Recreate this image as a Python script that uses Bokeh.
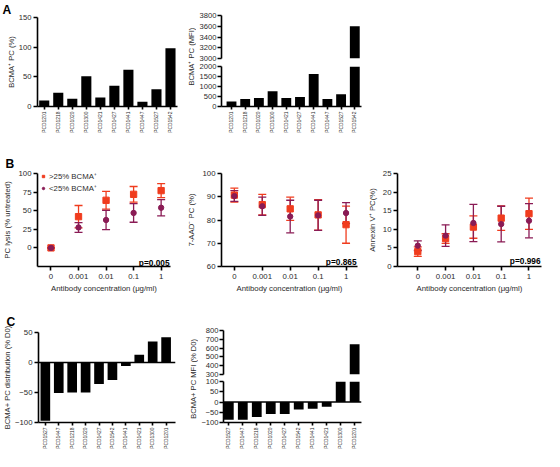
import math
from bokeh.plotting import figure
from bokeh.models import (Range1d, FixedTicker, Label, Span, Whisker, TeeHead,
                          Legend, LegendItem, ColumnDataSource, Title)
from bokeh.layouts import row, column
from bokeh.embed import file_html
from bokeh.resources import INLINE

# ---------------- data ----------------
patients_a = ["PCD1201", "PCD1218", "PCD1020", "PCD1300", "PCD1421",
              "PCD1427", "PCD1441", "PCD1447", "PCD1527", "PCD1542"]
bcma_pct = [10, 23, 13, 51, 15, 35, 62, 8, 29, 98]
bcma_mfi = [250, 370, 420, 760, 430, 480, 1620, 370, 610, 3600]

conc_labels = ["0", "0.001", "0.01", "0.1", "1"]
lysis_hi = [0, 42, 64, 72, 77]
lysis_hi_err = [0, 15, 12, 10.5, 9.5]
lysis_lo = [0, 27.5, 37.5, 47, 54]
lysis_lo_err = [0, 6.5, 13, 12.5, 11]
aad_hi = [90.7, 86.6, 84.8, 82.2, 78]
aad_hi_err = [3, 4.4, 5, 6.6, 8]
aad_lo = [90.3, 85.9, 81.5, 82, 83]
aad_lo_err = [2.3, 3.9, 7, 6.5, 4.5]
annex_hi = [4.0, 7.5, 10.6, 13.0, 14.2]
annex_hi_err = [1.3, 1.3, 3.0, 3.3, 4.2]
annex_lo = [5.6, 8.3, 11.7, 11.4, 12.3]
annex_lo_err = [1.3, 2.9, 5.0, 4.8, 4.6]
series_names = [">25% BCMA\u207a", "<25% BCMA\u207a"]
p_values = ["p=0.005", "p=0.865", "p=0.996"]

patients_c = ["PCD1527", "PCD1447", "PCD1218", "PCD1020", "PCD1427",
              "PCD1542", "PCD1441", "PCD1421", "PCD1300", "PCD1201"]
dist_change = [-97, -51, -50, -50, -36, -29, -6, 13, 35, 42]
mfi_change = [-86, -86, -73, -59, -59, -36, -33, -23, 100, 645]

# ---------------- styling helpers ----------------
SX = 544 / 560
SY = 451 / 467
FONT = "Liberation Sans"
RED = "#F03C1E"
PURPLE = "#8A1B55"
TXT = "#2b2b2b"


def px(v):
    return int(round(v * SX))


def py(v):
    return int(round(v * SY))


def fs(v):
    return f"{v * SX:.1f}px"


def make_fig(box, frame, xr, yr, **kw):
    x0, y0, x1, y1 = box
    fl, ft, fr, fb = frame
    p = figure(width=px(x1) - px(x0), height=py(y1) - py(y0),
               x_range=Range1d(*xr), y_range=Range1d(*yr),
               output_backend="svg", toolbar_location=None,
               min_border_left=px(fl) - px(x0), min_border_right=px(x1) - px(fr),
               min_border_top=py(ft) - py(y0), min_border_bottom=py(y1) - py(fb), **kw)
    p.outline_line_color = None
    p.grid.visible = False
    return p


def to_data(frame, xr, yr, xref, yref):
    fl, ft, fr, fb = frame
    xd = xr[0] + (xref - fl) / (fr - fl) * (xr[1] - xr[0])
    yd = yr[1] - (yref - ft) / (fb - ft) * (yr[1] - yr[0])
    return xd, yd


def style_axis(ax, size, tick_out=4, standoff=2):
    ax.axis_line_color = "black"
    ax.axis_line_width = 1.6
    ax.major_tick_line_color = "black"
    ax.major_tick_line_width = 1.6
    ax.major_tick_out = tick_out
    ax.major_tick_in = 0
    ax.minor_tick_line_color = None
    ax.major_label_text_font = FONT
    ax.major_label_text_font_size = fs(size)
    ax.major_label_text_color = TXT
    ax.major_label_standoff = standoff
    ax.axis_label_text_font = FONT
    ax.axis_label_text_font_style = "normal"
    ax.axis_label_text_color = TXT


def add_text(p, frame, xr, yr, xref, yref, text, size, bold=False, angle=0.0,
             align="center", baseline="middle", color=TXT):
    x, y = to_data(frame, xr, yr, xref, yref)
    p.add_layout(Label(x=x, y=y, text=text, angle=angle, text_align=align,
                       text_baseline=baseline, text_font=FONT, text_font_size=fs(size),
                       text_font_style="bold" if bold else "normal", text_color=color))


def panel_letter(p, letter, frame_left_ref, standoff):
    p.title.text = letter
    p.title.align = "left"
    p.title.offset = -(px(frame_left_ref) - px(2))
    p.title.standoff = standoff
    p.title.text_font = FONT
    p.title.text_font_size = fs(12.5)
    p.title.text_font_style = "bold"
    p.title.text_color = "black"


def left_title(p, text, size, offset):
    p.add_layout(Title(text=text, align="center", offset=offset, standoff=0,
                       text_font=FONT, text_font_size=fs(size),
                       text_font_style="normal", text_color=TXT), "left")


def cat_xaxis(p, names):
    ax = p.xaxis[0]
    style_axis(ax, 5.0, tick_out=3, standoff=2)
    ax.ticker = FixedTicker(ticks=list(range(len(names))))
    ax.major_label_overrides = {i: n for i, n in enumerate(names)}
    ax.major_label_orientation = math.pi / 2


def y_ticks(p, ticks, size=7.8, tick_out=4, standoff=2):
    ax = p.yaxis[0]
    style_axis(ax, size, tick_out=tick_out, standoff=standoff)
    ax.ticker = FixedTicker(ticks=ticks)


def label_fig(box, text, xref, yref, size):
    x0, y0, x1, y1 = box
    p = figure(width=px(x1) - px(x0), height=py(y1) - py(y0),
               x_range=Range1d(0, 1), y_range=Range1d(0, 1),
               x_axis_type=None, y_axis_type=None, min_border=0,
               output_backend="svg", toolbar_location=None)
    p.outline_line_color = None
    p.add_layout(Label(x=(xref - x0) / (x1 - x0), y=1 - (yref - y0) / (y1 - y0),
                       text=text, angle=math.pi / 2, text_align="center",
                       text_baseline="middle", text_font=FONT,
                       text_font_size=fs(size), text_color=TXT))
    return p


def bars(p, x, top, bottom, width=0.72):
    p.vbar(x=x, top=top, bottom=bottom, width=width, fill_color="black", line_color=None)


def upper_bars(p, x, vals, start, width=0.72):
    # only the bars that reach into the upper segment of a broken axis
    keep = [i for i, v in enumerate(vals) if v > start]
    p.vbar(x=[x[i] for i in keep], top=[vals[i] for i in keep], bottom=start,
           width=width, fill_color="black", line_color=None)


def lower_bars(p, x, vals, end, width=0.72):
    p.vbar(x=x, top=[min(v, end) for v in vals], bottom=0,
           width=width, fill_color="black", line_color=None)


# ---------------- Panel A ----------------
ia = list(range(len(patients_a)))

frA1 = (38, 17, 182, 114); xrA1 = (-0.48, 9.5); yrA1 = (0, 150)
A1 = make_fig((0, 0, 190, 140), frA1, xrA1, yrA1)
bars(A1, ia, bcma_pct, 0)
cat_xaxis(A1, patients_a)
y_ticks(A1, [0, 50, 100, 150])
left_title(A1, "BCMA\u207a PC (%)", 7.8, -20)
panel_letter(A1, "A", 38, 1)

labA = label_fig((190, 0, 202, 140), "BCMA\u207a PC (MFI)", 197, 61.5, 7.8)

frA2u = (225, 16, 372, 60); xrA2 = (-0.73, 9.49); yrA2u = (3000, 3800)
A2u = make_fig((202, 0, 375, 64), frA2u, xrA2, yrA2u, x_axis_location=None)
upper_bars(A2u, ia, bcma_mfi, yrA2u[0])
y_ticks(A2u, [3000, 3200, 3400, 3600, 3800], standoff=1)

frA2l = (225, 68, 372, 113); yrA2l = (0, 2000)
A2l = make_fig((202, 64, 375, 140), frA2l, xrA2, yrA2l)
lower_bars(A2l, ia, bcma_mfi, yrA2l[1])
cat_xaxis(A2l, patients_a)
y_ticks(A2l, [0, 500, 1000, 1500, 2000], standoff=1)

# ---------------- Panel B ----------------
ib = list(range(len(conc_labels)))


def make_b(box, frame, xr, yr, yticks, hi, hi_err, lo, lo_err, ylabel, ptext, pref,
           letter=False, legend=False):
    p = make_fig(box, frame, xr, yr)
    rs = []
    for mean, err, color, marker, size in ((hi, hi_err, RED, "square", 6.5),
                                           (lo, lo_err, PURPLE, "circle", 5.5)):
        src = ColumnDataSource(dict(x=ib, y=mean,
                                    upper=[m + e for m, e in zip(mean, err)],
                                    lower=[m - e for m, e in zip(mean, err)]))
        w = Whisker(source=src, base="x", upper="upper", lower="lower",
                    line_color=color, line_width=1.3,
                    upper_head=TeeHead(size=px(8), line_color=color, line_width=1.3),
                    lower_head=TeeHead(size=px(8), line_color=color, line_width=1.3))
        p.add_layout(w)
        r = p.scatter("x", "y", source=src, marker=marker, size=size * SX,
                      fill_color=color, line_color=color)
        rs.append(r)
    ax = p.xaxis[0]
    style_axis(ax, 8.0, tick_out=4, standoff=3)
    ax.ticker = FixedTicker(ticks=ib)
    ax.major_label_overrides = {i: n for i, n in enumerate(conc_labels)}
    ax.axis_label = "Antibody concentration (\u03bcg/ml)"
    ax.axis_label_text_font_size = fs(8.0)
    ax.axis_label_standoff = 2
    y_ticks(p, yticks, size=8.0)
    p.yaxis[0].axis_label = ylabel
    p.yaxis[0].axis_label_text_font_size = fs(8.0)
    p.yaxis[0].axis_label_standoff = 3
    add_text(p, frame, xr, yr, pref[0], pref[1], ptext, 8.5, bold=True,
             align="right", baseline="alphabetic", color="black")
    if letter:
        panel_letter(p, "B", frame[0], 6)
    if legend:
        lg = Legend(items=[LegendItem(label=series_names[0], renderers=[rs[0]]),
                           LegendItem(label=series_names[1], renderers=[rs[1]])],
                    location=(3, py(frame[3]) - py(frame[1]) - 2 * py(9) - 2))
        lg.border_line_color = None
        lg.background_fill_alpha = 0
        lg.label_text_font = FONT
        lg.label_text_font_size = fs(8.0)
        lg.label_text_color = TXT
        lg.glyph_width = px(6)
        lg.glyph_height = py(6)
        lg.label_height = py(9)
        lg.label_standoff = 3
        lg.padding = 0
        lg.spacing = 2
        lg.margin = 0
        p.add_layout(lg)
    return p


B1 = make_b((0, 140, 185, 305), (35, 179, 175, 275), (-0.49, 4.34), (-25, 100),
            [0, 25, 50, 75, 100], lysis_hi, lysis_hi_err, lysis_lo, lysis_lo_err,
            "PC lysis (% untreated)", p_values[0], (174, 271), letter=True, legend=True)
B2 = make_b((185, 140, 375, 305), (227, 179, 368, 275), (-0.46, 4.41), (60, 100),
            [60, 70, 80, 90, 100], aad_hi, aad_hi_err, aad_lo, aad_lo_err,
            "7-AAD\u207b PC (%)", p_values[1], (367, 270))
B3 = make_b((375, 140, 560, 305), (408, 179, 557, 275), (-0.73, 4.45), (0, 25),
            [0, 5, 10, 15, 20, 25], annex_hi, annex_hi_err, annex_lo, annex_lo_err,
            "Annexin V\u207a PC(%)", p_values[2], (556, 269))

# ---------------- Panel C ----------------
ic = list(range(len(patients_c)))

frC1 = (35, 344, 180, 440); xrC1 = (-0.51, 9.7); yrC1 = (-100, 50)
C1 = make_fig((0, 305, 190, 467), frC1, xrC1, yrC1)
bars(C1, ic, dist_change, 0)
C1.add_layout(Span(location=0, dimension="width", line_color="black", line_width=1.6))
cat_xaxis(C1, patients_c)
y_ticks(C1, [-100, -50, 0, 50], size=8.0)
left_title(C1, "BCMA+ PC distribution (% D0)", 7.8, 12)
panel_letter(C1, "C", 35, 8)

labC = label_fig((190, 305, 204, 467), "BCMA+ PC MFI (% D0)", 199, 388.5, 7.8)

frC2u = (228, 342, 372, 387); xrC2 = (-0.38, 9.49); yrC2u = (300, 800)
C2u = make_fig((204, 305, 375, 391), frC2u, xrC2, yrC2u, x_axis_location=None)
upper_bars(C2u, ic, mfi_change, yrC2u[0], width=0.7)
y_ticks(C2u, [300, 400, 500, 600, 700, 800], size=7.8, standoff=1)

frC2l = (228, 395, 372, 439); yrC2l = (-100, 100)
C2l = make_fig((204, 391, 375, 467), frC2l, xrC2, yrC2l)
lower_bars(C2l, ic, mfi_change, yrC2l[1], width=0.7)
C2l.add_layout(Span(location=0, dimension="width", line_color="black", line_width=1.6))
cat_xaxis(C2l, patients_c)
y_ticks(C2l, [-100, -50, 0, 50, 100], size=7.8, standoff=1)

root = column(
    row(A1, labA, column(A2u, A2l)),
    row(B1, B2, B3),
    row(C1, labC, column(C2u, C2l)),
)

open("out.html", "w").write(file_html(root, INLINE))
